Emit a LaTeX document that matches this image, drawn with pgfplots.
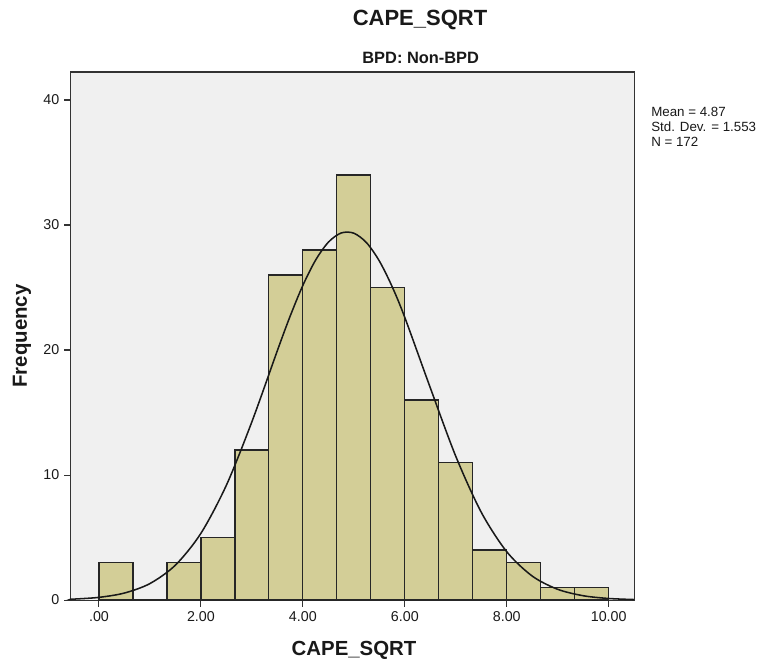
\documentclass[border=0pt]{standalone}
\usepackage{fontspec}
\setmainfont{Liberation Sans}
\usepackage{pgfplots}
\pgfplotsset{compat=1.18}
\definecolor{barfill}{RGB}{211,206,151}
\definecolor{plotbg}{RGB}{240,240,240}
\begin{document}
\begin{tikzpicture}
\useasboundingbox (-53.0pt,-48.75pt) rectangle (519.2pt,450pt);
\begin{axis}[
  scale only axis,
  width=423pt, height=396pt,
  xmin=-0.555, xmax=10.51,
  ymin=0, ymax=42.24,
  axis background/.style={fill=plotbg},
  axis line style={draw=black!80, line width=0.8pt},
  xtick={0,2,4,6,8,10},
  xticklabels={.00,2.00,4.00,6.00,8.00,10.00},
  ytick={0,10,20,30,40},
  xtick pos=left, ytick pos=left,
  tick align=outside,
  major tick length=5pt,
  tick style={draw=black!80, line width=0.8pt},
  /pgf/number format/assume math mode=true,
  ticklabel style={font=\fontsize{10.7}{12}\selectfont, text=black!90},
  clip=false,
]
\addplot[ybar interval, fill=barfill, draw=black!85, line width=0.9pt]
coordinates {
(0,3) (0.6667,0) (1.3333,3) (2,5) (2.6667,12) (3.3333,26) (4,28)
(4.6667,34) (5.3333,25) (6,16) (6.6667,11) (7.3333,4) (8,3)
(8.6667,1) (9.3333,1) (10,1)
};
\addplot[smooth, black!90, line width=1.15pt, mark=none]
coordinates {
(-0.55,0.070) (-0.5,0.0746) (0,0.2156) (0.5,0.562) (1.0,1.320) (1.5,2.796)
(2.0,5.339) (2.5,9.191) (3.0,14.264) (3.5,19.958) (3.75,22.706) (4.0,25.173)
(4.25,27.194) (4.5,28.626) (4.75,29.362) (5.0,29.347) (5.25,28.581) (5.5,27.124)
(5.75,25.082) (6.0,22.601) (6.5,16.977) (7.0,11.497) (7.5,7.019) (8.0,3.863)
(8.5,1.917) (9.0,0.858) (9.5,0.346) (10.0,0.1256) (10.5,0.0412)
};
\end{axis}
\node[font=\fontsize{16.5}{19}\selectfont\bfseries, text=black!90] at (262pt,435pt) {CAPE\_SQRT};
\node[font=\fontsize{12.3}{14}\selectfont\bfseries, text=black!90] at (262.5pt,406.5pt) {BPD: Non-BPD};
\node[font=\fontsize{15.3}{18}\selectfont\bfseries, text=black!90] at (212.5pt,-37.5pt) {CAPE\_SQRT};
\node[font=\fontsize{15.3}{18}\selectfont\bfseries, text=black!90, rotate=90] at (-36.5pt,198pt) {Frequency};
\node[font=\fontsize{10}{11.25}\selectfont, text=black!90, align=left, anchor=north west, inner sep=0pt] at (435.2pt,369.5pt) {Mean = 4.87\\Std. Dev. = 1.553\\N = 172};
\end{tikzpicture}
\end{document}
